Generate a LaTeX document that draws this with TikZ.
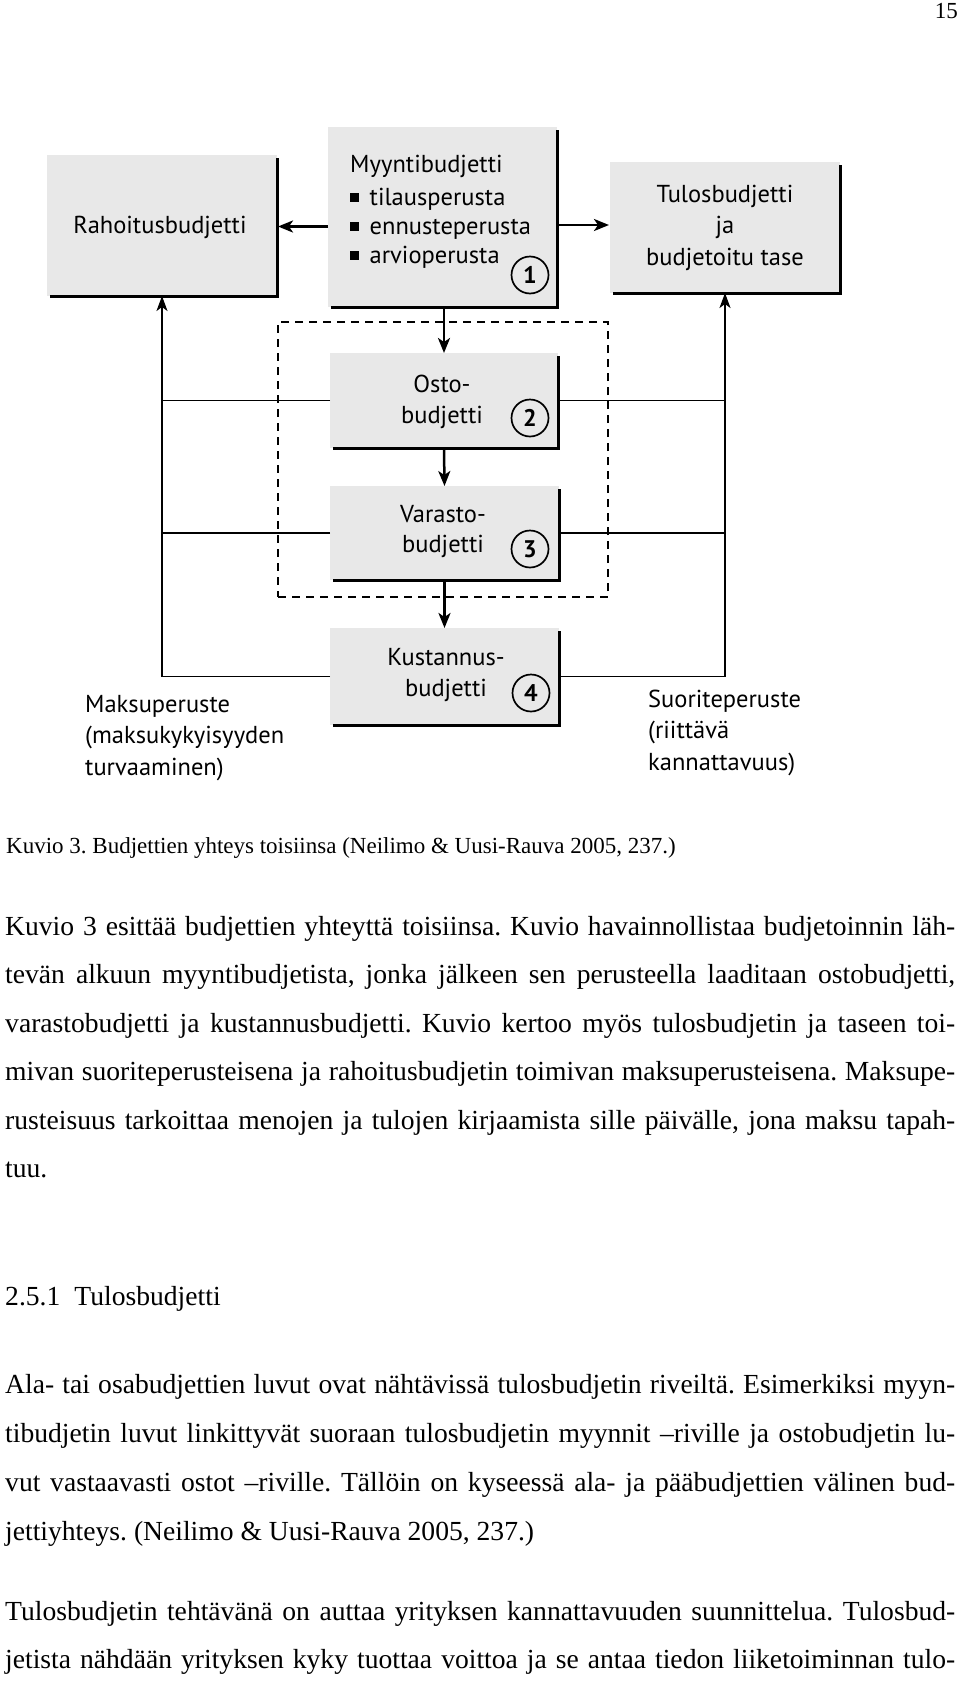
\documentclass[tikz,border=0pt]{standalone}
\usepackage{fontspec}
\setmainfont{Liberation Serif}
\newfontfamily\diagfont{PT Sans}
\usetikzlibrary{arrows.meta}
\frenchspacing
\definecolor{boxgrey}{RGB}{232,232,232}
\tikzset{
  box/.style={fill=boxgrey, draw=none, inner sep=0pt, outer sep=0pt},
  shadowline/.style={line width=3pt, line join=miter, line cap=butt},
  lbl/.style={font=\diagfont\fontsize{24.5}{31}\selectfont, inner sep=0pt, anchor=base},
  lbll/.style={lbl, anchor=base west},
  num/.style={circle, draw, line width=1.7pt, minimum size=37pt, inner sep=0pt, font=\diagfont\bfseries\fontsize{24}{24}\selectfont},
  flow/.style={line width=2.5pt, -{Stealth[length=15pt,width=12pt,inset=4pt]}},
  conn/.style={line width=1.6pt},
  connarr/.style={conn, -{Stealth[length=15pt,width=11pt,inset=4pt]}},
  grp/.style={draw, dash pattern=on 8pt off 6pt, line width=1.5pt, inner sep=0pt},
  body/.style={font=\fontsize{27.6}{34}\selectfont, inner sep=0pt, anchor=base west},
  captext/.style={font=\fontsize{23}{28}\selectfont, inner sep=0pt},
}
\newcommand{\sqbullet}{\rule[3.5pt]{8.5pt}{8.5pt}\hspace{11pt}}
\newcommand{\jline}[1]{\makebox[950pt][s]{#1}}
\begin{document}
\begin{tikzpicture}[x=1pt,y=-1pt]
\useasboundingbox[fill=white] (0,0) rectangle (960,1692);

% page number
\node[captext, anchor=base east] (pnum) at (958,18) {15};

% dashed group
\node[grp, minimum width=330pt, minimum height=275pt] (grp) at (443,459.5) {};

% boxes
\node[box, minimum width=230pt, minimum height=141pt] (raho) at (162,225.5) {};
\node[box, minimum width=229pt, minimum height=180pt] (myyn) at (442.5,217) {};
\node[box, minimum width=230pt, minimum height=131pt] (tulos) at (725,227.5) {};
\node[box, minimum width=228pt, minimum height=95pt] (osto) at (444,400.5) {};
\node[box, minimum width=229pt, minimum height=94pt] (vara) at (444.5,533) {};
\node[box, minimum width=229pt, minimum height=97pt] (kust) at (444.5,676.5) {};

% shadow lines
\foreach \b in {raho,myyn,tulos,osto,vara,kust}{
  \draw[shadowline] ([yshift=-3pt]\b.north east) -- (\b.south east) -- ([xshift=3pt]\b.south west);
}

% texts
\node[lbl] (rahot) at (160,233) {Rahoitusbudjetti};
\node[lbll] (myynt) at (350,172) {Myyntibudjetti};
\node[lbll] (myyn1) at (350,205) {\sqbullet tilausperusta};
\node[lbll] (myyn2) at (350,234) {\sqbullet ennusteperusta};
\node[lbll] (myyn3) at (350,263) {\sqbullet arvioperusta};
\node[num] (n1) at (530,275) {1};
\node[lbl] (tulos1) at (725,202) {Tulosbudjetti};
\node[lbl] (tulos2) at (725,233) {ja};
\node[lbl] (tulos3) at (725,265) {budjetoitu tase};
\node[lbl] (osto1) at (442,392) {Osto-};
\node[lbl] (osto2) at (442,423) {budjetti};
\node[num] (n2) at (530,418) {2};
\node[lbl] (vara1) at (443,522) {Varasto-};
\node[lbl] (vara2) at (443,552) {budjetti};
\node[num] (n3) at (530,549) {3};
\node[lbl] (kust1) at (446,665) {Kustannus-};
\node[lbl] (kust2) at (446,696) {budjetti};
\node[num] (n4) at (531,693) {4};
\node[lbll] (maksu1) at (85,712) {Maksuperuste};
\node[lbll] (maksu2) at (85,743) {(maksukykyisyyden};
\node[lbll] (maksu3) at (85,775) {turvaaminen)};
\node[lbll] (suor1) at (648,707) {Suoriteperuste};
\node[lbll] (suor2) at (648,738) {(riittävä};
\node[lbll] (suor3) at (648,770) {kannattavuus)};

% main flow arrows
\coordinate (yl) at (0,226.5);
\coordinate (yr) at (0,225);
\draw[flow] (myyn.west |- yl) -- ([xshift=1pt]raho.east |- yl);
\draw[flow] (myyn.east |- yr) -- ([xshift=-1pt]tulos.west |- yr);
\draw[flow] (osto.north |- myyn.south) -- (osto.north);
\draw[flow] (osto.south) -- (vara.north);
\draw[flow] (vara.south) -- (kust.north);

% left connectors (maksuperuste)
\draw[connarr] (kust.west) -| (raho.south);
\draw[conn] (osto.west) -- (osto.west -| raho.south);
\draw[conn] (vara.west) -- (vara.west -| raho.south);

% right connectors (suoriteperuste)
\draw[connarr] (kust.east) -| (tulos.south);
\draw[conn] (osto.east) -- (osto.east -| tulos.south);
\draw[conn] (vara.east) -- (vara.east -| tulos.south);

% caption
\node[captext, anchor=base west] (caption) at (6,853) {Kuvio 3. Budjettien yhteys toisiinsa (Neilimo \& Uusi-Rauva 2005, 237.)};

% body text
\node[body] (p1a) at (5,935) {\jline{Kuvio 3 esittää budjettien yhteyttä toisiinsa. Kuvio havainnollistaa budjetoinnin läh-}};
\node[body] (p1b) at (5,983.5) {\jline{tevän alkuun myyntibudjetista, jonka jälkeen sen perusteella laaditaan ostobudjetti,}};
\node[body] (p1c) at (5,1032) {\jline{varastobudjetti ja kustannusbudjetti. Kuvio kertoo myös tulosbudjetin ja taseen toi-}};
\node[body] (p1d) at (5,1080.5) {\jline{mivan suoriteperusteisena ja rahoitusbudjetin toimivan maksuperusteisena. Maksupe-}};
\node[body] (p1e) at (5,1129) {\jline{rusteisuus tarkoittaa menojen ja tulojen kirjaamista sille päivälle, jona maksu tapah-}};
\node[body] (p1f) at (5,1177.5) {tuu.};

\node[body] (head) at (5,1305) {2.5.1\hspace{14pt}Tulosbudjetti};

\node[body] (p2a) at (5,1393) {\jline{Ala- tai osabudjettien luvut ovat nähtävissä tulosbudjetin riveiltä. Esimerkiksi myyn-}};
\node[body] (p2b) at (5,1442) {\jline{tibudjetin luvut linkittyvät suoraan tulosbudjetin myynnit –riville ja ostobudjetin lu-}};
\node[body] (p2c) at (5,1491) {\jline{vut vastaavasti ostot –riville. Tällöin on kyseessä ala- ja pääbudjettien välinen bud-}};
\node[body] (p2d) at (5,1540) {jettiyhteys. (Neilimo \& Uusi-Rauva 2005, 237.)};

\node[body] (p3a) at (5,1620) {\jline{Tulosbudjetin tehtävänä on auttaa yrityksen kannattavuuden suunnittelua. Tulosbud-}};
\node[body] (p3b) at (5,1668) {\jline{jetista nähdään yrityksen kyky tuottaa voittoa ja se antaa tiedon liiketoiminnan tulo-}};
\end{tikzpicture}
\end{document}
